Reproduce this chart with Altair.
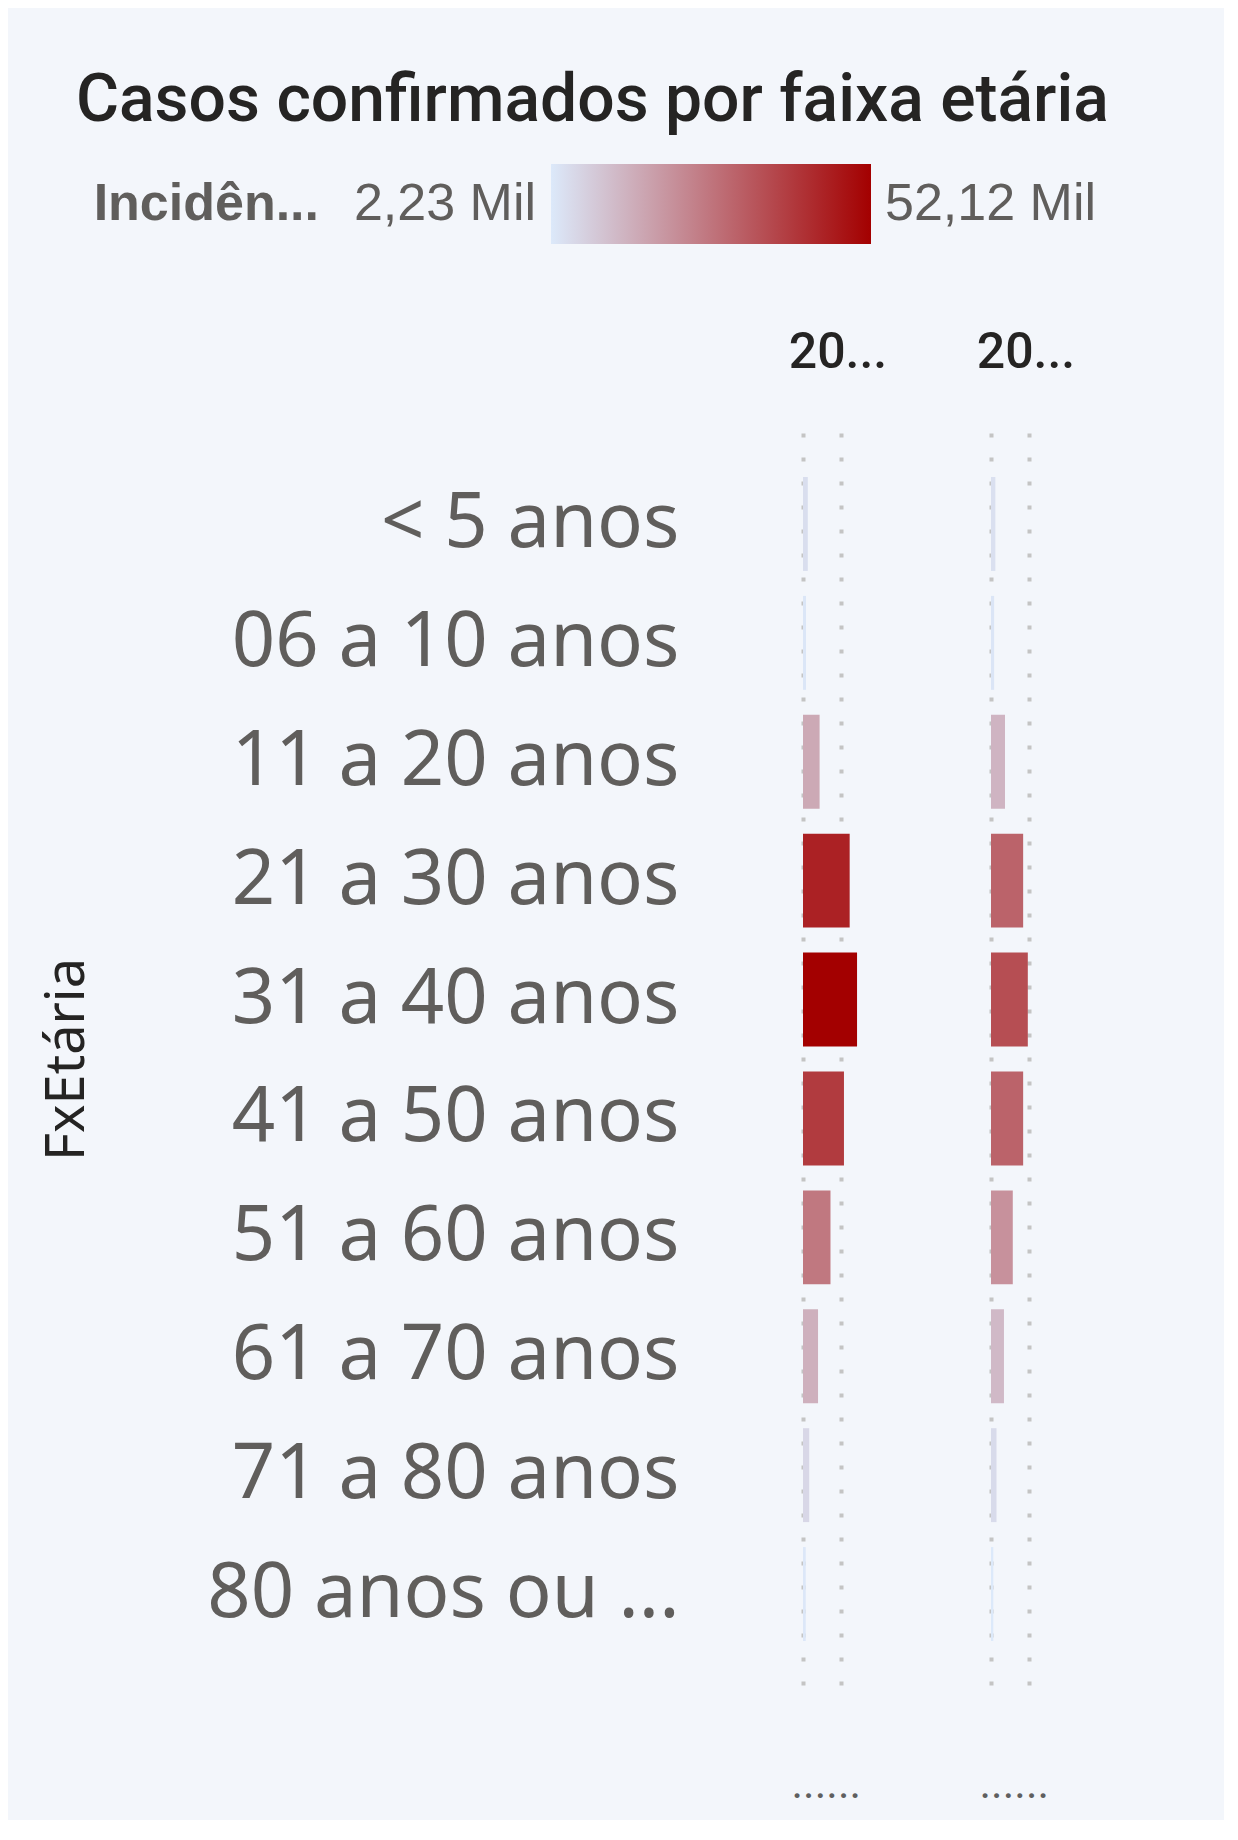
import altair as alt
import pandas as pd

# ---- data ----
faixas = ["< 5 anos", "06 a 10 anos", "11 a 20 anos", "21 a 30 anos", "31 a 40 anos",
          "41 a 50 anos", "51 a 60 anos", "61 a 70 anos", "71 a 80 anos", "80 anos ou mais"]
anos = ["2020", "2021"]
casos_2020 = [4600, 2900, 16000, 45000, 52120, 39500, 26500, 14500, 6000, 2600]
casos_2021 = [4200, 3000, 13500, 31000, 35500, 31000, 21000, 12500, 5300, 2230]
titulo = "Casos confirmados por faixa etária"
legenda_titulo = "Incidência"
total_txt = "......"

rows = []
for ano, vals in zip(anos, [casos_2020, casos_2021]):
    for f, v in zip(faixas, vals):
        rows.append({"faixa": f, "ano": ano, "valor": v})
df = pd.DataFrame(rows)

lo = min(casos_2020 + casos_2021)
hi = max(casos_2020 + casos_2021)


def fmt(v):
    return f"{v / 1000:.2f}".replace(".", ",") + " Mil"


leg_df = pd.DataFrame({"lo": [lo], "hi": [hi], "lo_txt": [fmt(lo)], "hi_txt": [fmt(hi)],
                       "titulo": [legenda_titulo[:7] + "..."]})

C_LO, C_HI = "#dce9fa", "#a30000"
color_scale = alt.Scale(domain=[lo, hi], range=[C_LO, C_HI], interpolate="rgb")

# ---- legend row (its plot area is aligned with the matrix plot area) ----
xs = alt.Scale(domain=[lo, hi], range=[-252, 68])
grad = alt.Chart(leg_df).mark_rect(
    color=alt.Gradient(gradient="linear",
                       stops=[alt.GradientStop(color=C_LO, offset=0),
                              alt.GradientStop(color=C_HI, offset=1)],
                       x1=0, x2=1, y1=0, y2=0)
).encode(x=alt.X("lo:Q", scale=xs, axis=None), x2="hi:Q")

txt_kw = dict(baseline="middle", font="Liberation Sans", fontSize=52, color="#605e5c")
lo_text = alt.Chart(leg_df).mark_text(align="right", dx=-15, **txt_kw).encode(
    x=alt.X("lo:Q", scale=xs, axis=None), text="lo_txt:N")
hi_text = alt.Chart(leg_df).mark_text(align="left", dx=14, **txt_kw).encode(
    x=alt.X("hi:Q", scale=xs, axis=None), text="hi_txt:N")
tit_text = alt.Chart(leg_df).mark_text(align="right", dx=-232, fontWeight="bold", **txt_kw).encode(
    x=alt.X("lo:Q", scale=xs, axis=None), text="titulo:N")

legend = alt.layer(grad, lo_text, hi_text, tit_text).properties(width=70, height=80)

# ---- matrix ----
base = alt.Chart(df).mark_bar().encode(
    x=alt.X("valor:Q", scale=alt.Scale(domain=[0, 67500]),
            axis=alt.Axis(values=[0, 36700], labels=False, ticks=False, domain=False,
                          grid=True, gridColor="#c4c4c4", gridWidth=4, gridDash=[4, 20],
                          title=total_txt, titleFont="Roboto", titleFontSize=44,
                          titleFontWeight="normal", titleColor="#5f5f5f",
                          titleAlign="left", titleX=-12, titlePadding=77,
                          minExtent=0, maxExtent=0)),
    y=alt.Y("faixa:N", sort=faixas,
            scale=alt.Scale(paddingInner=0.21, paddingOuter=0.37),
            axis=alt.Axis(title="FxEtária", labelFontSize=76, labelFont="Noto Sans",
                          labelColor="#605e5c", labelPadding=124, ticks=False, domain=False,
                          grid=False, labelLimit=700, maxExtent=800, minExtent=10,
                          labelExpr="length(datum.label) > 13 ? slice(datum.label, 0, 11) + '...' : datum.label",
                          titleFontSize=54, titleFont="Noto Sans", titleFontWeight="normal",
                          titleColor="#252423", titlePadding=112)),
    color=alt.Color("valor:Q", scale=color_scale, legend=None),
).properties(width=70, height=1252)

matrix = base.facet(
    column=alt.Column("ano:N", sort=anos, title=None,
                      header=alt.Header(labelExpr="slice(datum.label, 0, 2) + '...'",
                                        labelFont="Roboto", labelFontSize=50, labelFontWeight=500,
                                        labelColor="#252423", labelPadding=55)),
    spacing=118,
)

chart = alt.vconcat(legend, matrix, spacing=84).properties(
    title=alt.TitleParams(titulo, font="Roboto", fontSize=66, fontWeight=500, color="#252423",
                          anchor="middle", offset=29, dx=24),
    padding={"left": 32, "top": 60, "right": 115, "bottom": 14},
    background="#f3f6fb",
).configure_view(strokeWidth=0)

chart.save("out.html", embed_options={"renderer": "svg", "actions": False})
